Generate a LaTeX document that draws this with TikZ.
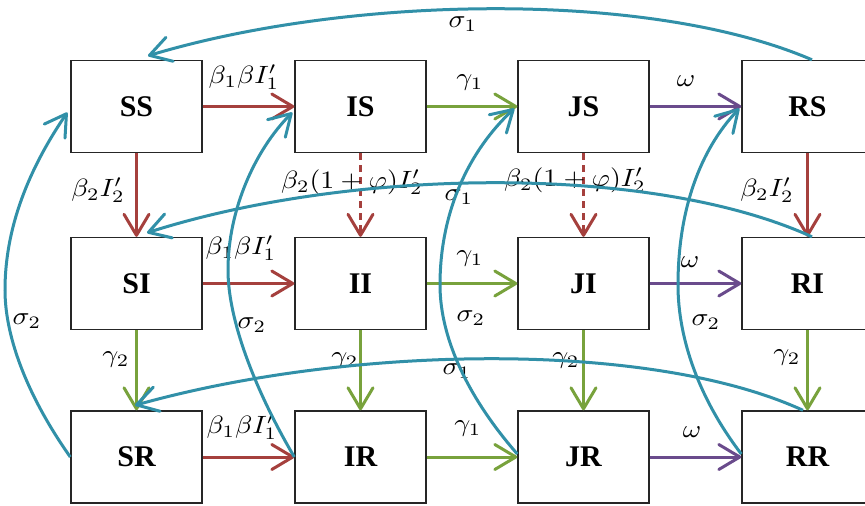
\documentclass[tikz,border=0pt]{standalone}
\usepackage{fontspec}
\setmainfont{Liberation Serif}
\usetikzlibrary{arrows.meta}
\definecolor{cred}{HTML}{A5403D}
\definecolor{cgreen}{HTML}{78A23C}
\definecolor{cpurple}{HTML}{6A4B8C}
\definecolor{cteal}{HTML}{3190A8}
\tikzset{
  box/.style={draw=black!85, line width=1.4pt, minimum width=131pt, minimum height=92pt, inner sep=0pt, font=\bfseries\fontsize{30}{30}\selectfont},
  arr/.style={line width=3pt, -{Straight Barb[length=21pt,width=25pt,line cap=round,line join=round]}},
  lbl/.style={font=\fontsize{10}{12}\selectfont, inner sep=0pt, xscale=2.8, yscale=2.5, transform shape},
  dashedarr/.style={arr, dash pattern=on 7pt off 5pt},
}
\begin{document}
\begin{tikzpicture}[x=1pt,y=-1pt]
\fill[white] (0,0) rectangle (865,506);
\useasboundingbox (0,0) rectangle (865,506);
% boxes
\node[box] (SS) at (136.5,106.5) {SS};
\node[box] (IS) at (360.5,106.5) {IS};
\node[box] (JS) at (583.5,106.5) {JS};
\node[box] (RS) at (807.5,106.5) {RS};
\node[box] (SI) at (136.5,283.5) {SI};
\node[box] (II) at (360.5,283.5) {II};
\node[box] (JI) at (583.5,283.5) {JI};
\node[box] (RI) at (807.5,283.5) {RI};
\node[box] (SR) at (136.5,457) {SR};
\node[box] (IR) at (360.5,457) {IR};
\node[box] (JR) at (583.5,457) {JR};
\node[box] (RR) at (807.5,457) {RR};
% horizontal arrows
\draw[arr,cred] (SS) -- (IS);
\draw[arr,cgreen] (IS) -- (JS);
\draw[arr,cpurple] (JS) -- (RS);
\draw[arr,cred] (SI) -- (II);
\draw[arr,cgreen] (II) -- (JI);
\draw[arr,cpurple] (JI) -- (RI);
\draw[arr,cred] (SR) -- (IR);
\draw[arr,cgreen] (IR) -- (JR);
\draw[arr,cpurple] (JR) -- (RR);
% vertical arrows
\draw[arr,cred] (SS) -- (SI);
\draw[dashedarr,cred] (IS) -- (II);
\draw[dashedarr,cred] (JS) -- (JI);
\draw[arr,cred] (RS) -- (RI);
\draw[arr,cgreen] (SI) -- (SR);
\draw[arr,cgreen] (II) -- (IR);
\draw[arr,cgreen] (JI) -- (JR);
\draw[arr,cgreen] (RI) -- (RR);
% labels
\node[lbl] (l1) at (244,77) {$\beta_1\beta I_1'$};
\node[lbl] (l2) at (241,248) {$\beta_1\beta I_1'$};
\node[lbl] (l3) at (242,427) {$\beta_1\beta I_1'$};
\node[lbl] (l4) at (470,83) {$\gamma_1$};
\node[lbl] (l5) at (470,259) {$\gamma_1$};
\node[lbl] (l6) at (468,429) {$\gamma_1$};
\node[lbl] (l7) at (686,81) {$\omega$};
\node[lbl] (l8) at (690,262) {$\omega$};
\node[lbl] (l9) at (692,432) {$\omega$};
\node[lbl] (l10) at (98,190) {$\beta_2 I_2'$};
\node[lbl] (l11) at (352,182) {$\beta_2(1+\varphi)I_2'$};
\node[lbl] (l12) at (575,180) {$\beta_2(1+\varphi)I_2'$};
\node[lbl] (l13) at (767,190) {$\beta_2 I_2'$};
\node[lbl] (l14) at (116,360) {$\gamma_2$};
\node[lbl] (l15) at (345,361) {$\gamma_2$};
\node[lbl] (l16) at (566,361) {$\gamma_2$};
\node[lbl] (l17) at (787,358) {$\gamma_2$};
\node[lbl] (l18) at (463,24) {$\sigma_1$};
\node[lbl] (l19) at (459,197) {$\sigma_1$};
\node[lbl] (l20) at (457,371) {$\sigma_1$};
\node[lbl] (l21) at (27,321) {$\sigma_2$};
\node[lbl] (l22) at (252,325) {$\sigma_2$};
\node[lbl] (l23) at (471,318) {$\sigma_2$};
\node[lbl] (l24) at (706,322) {$\sigma_2$};
% teal curves sigma1
\draw[arr,cteal] ([xshift=4.5pt]RS.north) .. controls (650,-10) and (350,-5) .. ([xshift=11.5pt,yshift=4pt]SS.north);
\draw[arr,cteal] ([xshift=4.5pt]RI.north) .. controls (650,163) and (350,168) .. ([xshift=10.5pt,yshift=4pt]SI.north);
\draw[arr,cteal] ([xshift=-4.5pt]RR.north) .. controls (650,340) and (350,345) .. ([xshift=-1.5pt,yshift=5pt]SR.north);
% teal curves sigma2
\draw[arr,cteal] (SR.west) .. controls (30,400) and (5,340) .. (5,290) .. controls (5,220) and (35,160) .. ([xshift=-3pt,yshift=-6pt]SS.west);
\draw[arr,cteal] (IR.west) .. controls (255,390) and (228,320) .. (228,270) .. controls (228,210) and (255,150) .. ([xshift=-2pt,yshift=-6pt]IS.west);
\draw[arr,cteal] ([yshift=3pt]JR.west) .. controls (470,400) and (440,340) .. (440,285) .. controls (440,210) and (470,150) .. ([xshift=-3pt,yshift=-2pt]JS.west);
\draw[arr,cteal] ([yshift=3pt]RR.west) .. controls (700,400) and (678,340) .. (678,285) .. controls (678,210) and (700,150) .. ([xshift=-2pt,yshift=-2pt]RS.west);
\end{tikzpicture}
\end{document}
